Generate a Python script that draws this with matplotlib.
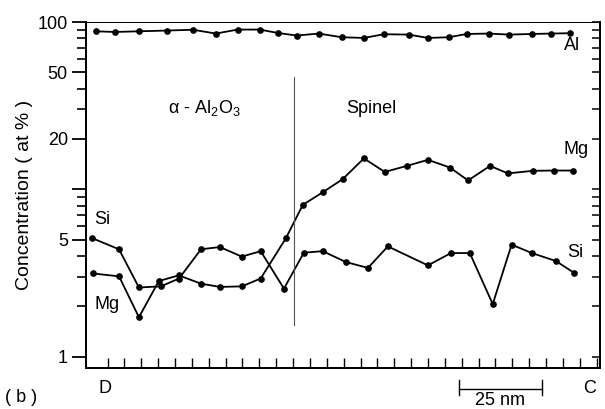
import matplotlib
matplotlib.use("Agg")
import matplotlib.pyplot as plt
import matplotlib.transforms as mtransforms
from matplotlib.ticker import FixedLocator, NullFormatter

plt.rcParams['font.family'] = ['Liberation Sans', 'DejaVu Sans']
plt.rcParams['mathtext.fontset'] = 'custom'
plt.rcParams['mathtext.rm'] = 'Liberation Sans'

# distance along the profile (nm) and concentration (at %)
al_x = [1.5, 7.2, 14.3, 22.6, 30.3, 37.1, 43.6, 50.1, 55.5, 61.1, 67.6, 74.4,
        81.0, 86.9, 94.3, 100.0, 106.2, 111.5, 118.0, 124.0, 130.8, 136.4, 142.0]
al_y = [88.0, 87.2, 88.0, 88.9, 89.9, 85.3, 90.1, 90.1, 86.0, 83.0, 85.3, 81.1,
        80.3, 84.5, 84.1, 80.3, 81.1, 84.8, 85.3, 84.1, 84.8, 85.3, 85.7]

si_x = [0.4, 8.4, 14.3, 20.8, 26.2, 32.7, 38.3, 44.8, 50.4, 57.3, 63.2, 68.8,
        75.6, 82.2, 88.1, 100.0, 106.8, 112.4, 119.2, 124.8, 130.8, 137.9, 143.2]
si_y = [5.11, 4.38, 2.59, 2.63, 2.93, 4.38, 4.52, 3.96, 4.27, 2.55, 4.18, 4.27,
        3.68, 3.39, 4.56, 3.51, 4.16, 4.16, 2.06, 4.67, 4.16, 3.73, 3.18]

mg_x = [0.7, 8.4, 14.3, 20.2, 26.1, 32.7, 38.3, 44.8, 50.4, 57.9, 62.9, 68.8,
        74.7, 81.0, 87.2, 93.7, 100.0, 106.5, 111.9, 118.4, 123.7, 131.1, 137.3, 143.0]
mg_y = [3.14, 3.02, 1.72, 2.83, 3.06, 2.73, 2.61, 2.63, 2.93, 5.11, 8.08, 9.6,
        11.5, 15.3, 12.7, 13.8, 15.0, 13.5, 11.3, 13.8, 12.45, 12.9, 12.95, 12.95]

y_ticks = [1, 5, 10, 20, 50, 100]
y_labels = ['1', '5', '', '20', '50', '100']
y_minor = [2, 3, 4, 6, 7, 8, 9, 30, 40, 60, 70, 80, 90]
x_ticks = list(range(5, 151, 5))

fig = plt.figure(figsize=(6.05, 4.09), dpi=100)
ax = fig.add_axes([0.1421, 0.1002, 0.8496, 0.846])

for xs, ys in [(al_x, al_y), (si_x, si_y), (mg_x, mg_y)]:
    ax.plot(xs, ys, color='black', lw=1.3, marker='o', ms=3.8)

ax.set_yscale('log')
ax.set_ylim(0.855, 100)
ax.set_xlim(-1.4, 151)

ax.yaxis.set_major_locator(FixedLocator(y_ticks))
ax.yaxis.set_major_formatter(plt.FixedFormatter(y_labels))
ax.yaxis.set_minor_locator(FixedLocator(y_minor))
ax.yaxis.set_minor_formatter(NullFormatter())
ax.tick_params(axis='y', which='major', direction='out', length=10, width=1.3,
               labelsize=13, pad=3)
ax.tick_params(axis='y', which='minor', direction='out', length=6.5, width=1.2)

ax.set_xticks(x_ticks)
ax.set_xticklabels([])
ax.tick_params(axis='x', which='major', direction='in', length=7.5, width=1.0)
ax.tick_params(axis='x', which='minor', bottom=False)

# right-hand ticks point inwards
axr = ax.twinx()
axr.set_yscale('log')
axr.set_ylim(ax.get_ylim())
axr.yaxis.set_major_locator(FixedLocator(y_ticks))
axr.yaxis.set_minor_locator(FixedLocator(y_minor))
axr.yaxis.set_major_formatter(NullFormatter())
axr.yaxis.set_minor_formatter(NullFormatter())
axr.tick_params(axis='y', which='both', direction='in', length=6, width=1.1)

for a in (ax, axr):
    for side in ['left', 'bottom', 'right']:
        a.spines[side].set_linewidth(1.4)
    a.spines['top'].set_linewidth(0.7)

ax.set_ylabel('Concentration ( at % )', fontsize=14, labelpad=3)

# interface between the two phases
ax.axvline(60.3, ymin=0.124, ymax=0.842, color='#555555', lw=0.8)

ax.text(33.6, 30.6, 'α - Al$_\\mathregular{2}$O$_\\mathregular{3}$', fontsize=13,
        ha='center', va='center')
ax.text(83.3, 30.6, 'Spinel', fontsize=13, ha='center', va='center')
ax.text(142.6, 71.9, 'Al', fontsize=13, ha='center', va='center')
ax.text(143.9, 17.2, 'Mg', fontsize=13, ha='center', va='center')
ax.text(143.6, 4.22, 'Si', fontsize=13, ha='center', va='center')
ax.text(3.3, 6.56, 'Si', fontsize=13, ha='center', va='center')
ax.text(4.8, 2.04, 'Mg', fontsize=13, ha='center', va='center')

trans = mtransforms.blended_transform_factory(ax.transData, ax.transAxes)
ax.text(4.2, -0.06, 'D', fontsize=13, ha='center', va='center', transform=trans)
ax.text(148.0, -0.06, 'C', fontsize=13, ha='center', va='center', transform=trans)

# 25 nm scale bar
ax.plot([109.1, 133.8], [-0.061, -0.061], color='black', lw=1.0,
        transform=trans, clip_on=False)
for xb in (109.1, 133.8):
    ax.plot([xb, xb], [-0.035, -0.078], color='black', lw=1.0,
            transform=trans, clip_on=False)
ax.text(121.4, -0.095, '25 nm', fontsize=13, ha='center', va='center',
        transform=trans)

fig.text(0.035, 0.027, '( b )', fontsize=13, ha='center', va='center')

fig.savefig('out.png', dpi=100)
